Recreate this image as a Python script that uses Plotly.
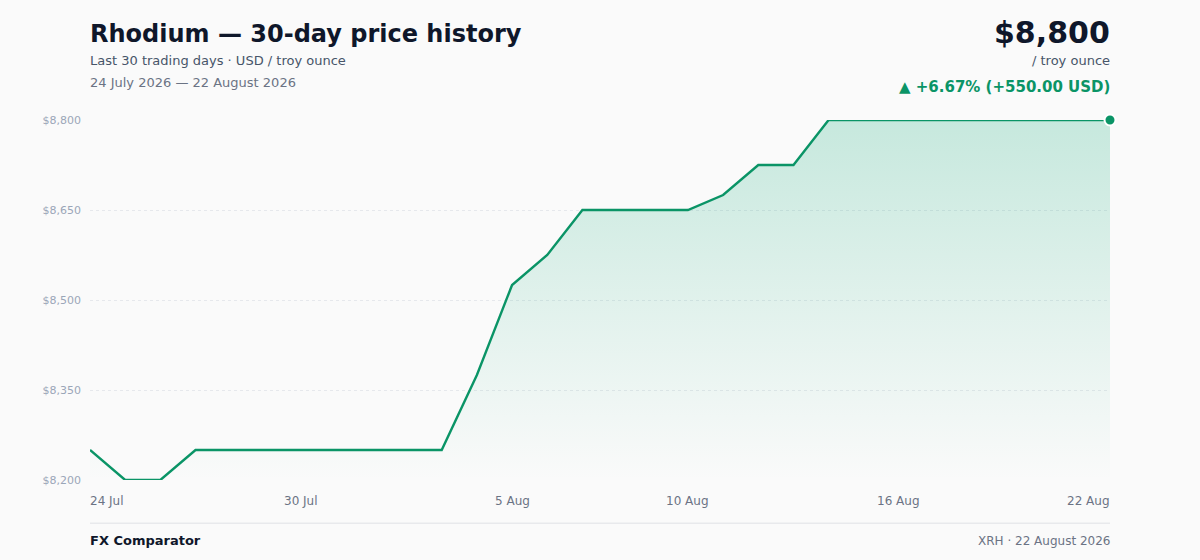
import plotly.graph_objects as go

# 30 calendar days, 24 Jul .. 22 Aug 2026
dates = [f"2026-07-{d:02d}" for d in range(24, 32)] + [f"2026-08-{d:02d}" for d in range(1, 23)]
prices = [
    8250, 8200, 8200, 8250, 8250, 8250, 8250, 8250, 8250, 8250,
    8250, 8375, 8525, 8575, 8650, 8650, 8650, 8650, 8675, 8725,
    8725, 8800, 8800, 8800, 8800, 8800, 8800, 8800, 8800, 8800,
]
x_tick_dates = ["2026-07-24", "2026-07-30", "2026-08-05", "2026-08-10", "2026-08-16", "2026-08-22"]
x_tick_labels = ["24 Jul", "30 Jul", "5 Aug", "10 Aug", "16 Aug", "22 Aug"]
y_tick_values = [8200, 8350, 8500, 8650, 8800]
y_tick_labels = ["$8,200", "$8,350", "$8,500", "$8,650", "$8,800"]

GREEN = "#0a9466"
FONT = "DejaVu Sans"
first, last = prices[0], prices[-1]
change = last - first
pct = change / first * 100

fig = go.Figure()

# invisible baseline so the gradient fill stops at the bottom of the range
fig.add_trace(go.Scatter(
    x=dates, y=[y_tick_values[0]] * len(dates),
    mode="lines", line=dict(width=0, color="rgba(0,0,0,0)"),
    hoverinfo="skip", showlegend=False,
))
fig.add_trace(go.Scatter(
    x=dates, y=prices,
    mode="lines", line=dict(color=GREEN, width=2.4),
    fill="tonexty",
    fillgradient=dict(
        type="vertical",
        colorscale=[[0, "rgba(16,170,120,0.0)"], [1, "rgba(16,170,120,0.22)"]],
        start=y_tick_values[0], stop=y_tick_values[-1],
    ),
    showlegend=False,
    hovertemplate="%{x|%d %b %Y}<br>$%{y:,.0f}<extra></extra>",
))
fig.add_trace(go.Scatter(
    x=[dates[-1]], y=[last],
    mode="markers",
    marker=dict(size=11, color=GREEN, line=dict(color="white", width=2)),
    cliponaxis=False, showlegend=False, hoverinfo="skip",
))

fig.update_layout(
    width=1200, height=560,
    margin=dict(l=90, r=90, t=120, b=80),
    paper_bgcolor="#fafafa",
    plot_bgcolor="#fafafa",
    font=dict(family=FONT, color="#0f172a"),
    xaxis=dict(
        range=[dates[0], dates[-1]],
        showgrid=False, zeroline=False, showline=False,
        showticklabels=False, ticks="",
        fixedrange=True,
    ),
    yaxis=dict(
        range=[y_tick_values[0], y_tick_values[-1]],
        tickvals=y_tick_values, ticktext=y_tick_labels,
        tickfont=dict(size=11, color="#9aa6b8"),
        showgrid=True, gridcolor="#e6e8ec", griddash="dot", gridwidth=1,
        zeroline=False, showline=False, ticks="", ticklabelstandoff=8,
        fixedrange=True,
    ),
)

SHIFT = {"left": -2, "right": 2, "center": 0}

# x tick labels: first left-aligned, last right-aligned, the rest centred
for i, (d, lab) in enumerate(zip(x_tick_dates, x_tick_labels)):
    anchor = "left" if i == 0 else ("right" if i == len(x_tick_dates) - 1 else "center")
    fig.add_annotation(
        x=d, xref="x", y=-0.058, yref="paper",
        text=lab, showarrow=False, xanchor=anchor, yanchor="middle",
        xshift=SHIFT[anchor],
        font=dict(size=12, color="#6b7384"),
    )


def note(text, x, y, size, color, anchor):
    fig.add_annotation(text=text, x=x, y=y, xref="paper", yref="paper",
                       xanchor=anchor, yanchor="middle", xshift=SHIFT[anchor],
                       showarrow=False, font=dict(size=size, color=color))


# header
note("<b>Rhodium — 30-day price history</b>", 0, 1.239, 24, "#0f172a", "left")
note("Last 30 trading days · USD / troy ounce", 0, 1.164, 13, "#475569", "left")
note("24 July 2026 — 22 August 2026", 0, 1.103, 13, "#6b7384", "left")
note(f"<b>${last:,.0f}</b>", 1, 1.243, 30, "#0f172a", "right")
note("/ troy ounce", 1, 1.164, 13, "#475569", "right")
note(f"<b>▲ +{pct:.2f}% (+{change:,.2f} USD)</b>", 1, 1.092, 15, GREEN, "right")

# footer
fig.add_shape(type="line", xref="paper", yref="paper", x0=0, x1=1, y0=-0.12, y1=-0.12,
              line=dict(color="#e8e9ec", width=1.5))
note("<b>FX Comparator</b>", 0, -0.169, 13, "#0f172a", "left")
note("XRH · 22 August 2026", 1, -0.169, 12, "#6b7384", "right")

# page body has a default 8px margin; drop it so the figure fills the window
fig.write_html("out.html", config={"displayModeBar": False},
               post_script="document.body.style.margin='0';document.body.style.background='#fafafa';")
